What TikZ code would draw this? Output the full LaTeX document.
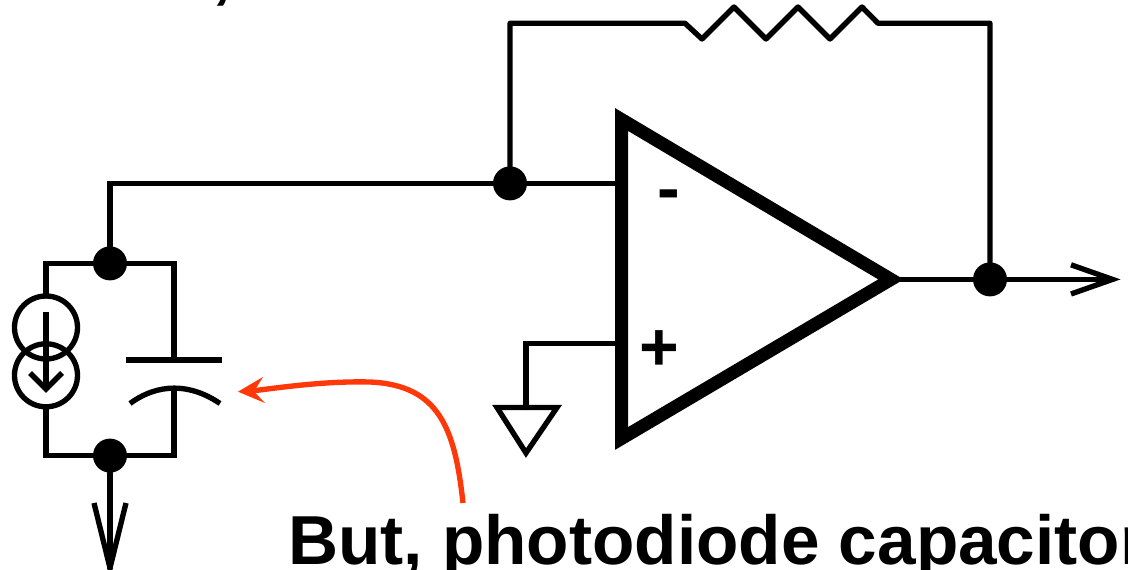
\documentclass[tikz,border=0pt]{standalone}
\usepackage{fontspec}
\setmainfont{Liberation Sans}
\definecolor{callcol}{RGB}{255,56,10}
\tikzset{
  wire/.style={line width=4pt,line cap=round,line join=miter},
  dot/.style={circle,fill=black,inner sep=0pt,minimum size=25.5pt},
  openhead/.style={line width=4pt,line join=miter},
  source/.style={circle,draw,line width=4pt,minimum size=47.25pt,inner sep=0pt,outer sep=0pt},
  big/.style={font=\bfseries\fontsize{52}{52}\selectfont,inner sep=0pt,anchor=base west},
  sign/.style={font=\bfseries\fontsize{51}{51}\selectfont,inner sep=0pt,anchor=base}
}
\begin{document}
\begin{tikzpicture}[x=0.75pt,y=-0.75pt]
\useasboundingbox (0,0) rectangle (1128,570);

% junctions
\node[dot] (inv) at (510,183.4) {};
\node[dot] (top) at (110,263.4) {};
\node[dot] (bot) at (110,455.6) {};
\node[dot] (out) at (990,279.4) {};

% op amp
\coordinate (ampa) at (621.5,119.5);
\coordinate (ampb) at (621.5,438.5);
\coordinate (ampc) at (891,279.4);
\draw[line width=9.75pt,miter limit=10] (ampa) -- (ampc) -- (ampb) -- cycle;
\node[sign] (minus) at (668.5,212) {-};
\node[sign] (plus) at (659.5,370) {+};

% feedback
\coordinate (rleft) at (685,23.3);
\coordinate (rright) at (878,23.3);
\draw[wire,line join=round] (inv) -- (510,23.3) -- (rleft) -- (702,39) -- (734,7) -- (766,39) -- (798,7) -- (830,39) -- (862,7) -- (rright) -- (990,23.3) -- (out);
\draw[wire] (top) -- (110,183.4) -- (inv) -- (ampa |- inv);
\draw[wire] (ampc) -- (out);

% output arrow
\coordinate (tip) at (1112.5,279.4);
\draw[wire] (out) -- (tip);
\draw[openhead] (1071,264.8) -- (tip) -- (1071,294);

% ground
\coordinate (gnd) at (526,407.5);
\draw[wire] (ampa |- 0,343.4) -- (526,343.4) -- (gnd);
\draw[wire,line join=miter] (497,407.5) -- (557,407.5) -- (526,453) -- cycle;

% photodiode
\node[source] (srca) at (46,327.5) {};
\node[source] (srcb) at (46,375.3) {};
\draw[wire] (top) -- (46,263.4) -- (srca);
\draw[wire] (srcb) -- (46,455.6) -- (bot);
\draw[line width=4pt] (46,312) -- (46,389);
\draw[line width=4pt] (30,373) -- (46,389) -- (62,373);

% capacitor
\coordinate (capa) at (174,360);
\coordinate (capb) at (174,389);
\draw[wire] (top) -- (174,263.4) -- (capa);
\draw[wire] (bot) -- (174,455.6) -- (capb);
\draw[line width=4pt] (126,360) -- (222,360);
\draw[line width=4pt] (130,403.5) .. controls (158,383) and (190,383) .. (220,403.5);

% source arrow
\coordinate (sink) at (110,568);
\draw[wire] (bot) -- (sink);
\draw[openhead] (94,503) -- (sink) -- (126,503);

% label
\node[big] (note) at (288,564) {But, photodiode capacitor};
\node[big] (head) at (212,-4) {,};
\coordinate (callend) at (463,503);
\coordinate (calltip) at (238,391.7);
\draw[line width=4pt,draw=callcol] (callend) .. controls (455,430) and (440,385) .. (370,382) .. controls (330,381) and (290,386) .. (252,391);
\fill[callcol] (calltip) -- (263,377) -- (254,391.5) -- (265,403) -- cycle;
\end{tikzpicture}
\end{document}
